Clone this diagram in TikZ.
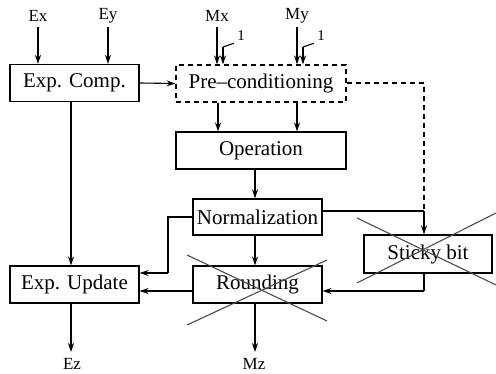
\documentclass[tikz,border=0pt]{standalone}
\usepackage{fontspec}
\setmainfont{Liberation Serif}
\usetikzlibrary{arrows.meta}
\begin{document}
\begin{tikzpicture}[x=1pt,y=-1pt,
  box/.style={draw, line width=1.1pt, inner sep=0pt, font=\fontsize{21}{24}\selectfont},
  dbox/.style={box, dashed, dash pattern=on 5pt off 4pt},
  lbl/.style={inner sep=0pt, font=\fontsize{17}{20}\selectfont},
  one/.style={inner sep=0pt, font=\fontsize{15}{18}\selectfont},
  wire/.style={line width=1.1pt},
  arr/.style={wire, -{Stealth[length=9pt,width=6pt]}},
  cross/.style={line width=1.1pt, draw=black!70}]
\useasboundingbox (0,0) rectangle (496,374);
% boxes
\node[box, minimum width=129pt, minimum height=37pt] (ec) at (74.5,83) {Exp. Comp.};
\node[dbox, minimum width=170pt, minimum height=37pt] (pc) at (261,83.5) {Pre--conditioning};
\node[box, minimum width=170pt, minimum height=37pt] (op) at (261,150.5) {Operation};
\node[box, minimum width=129pt, minimum height=36pt] (no) at (257.5,217) {Normalization};
\node[box, minimum width=129pt, minimum height=37pt] (ro) at (257.5,284.5) {Rounding};
\node[box, minimum width=128pt, minimum height=38pt] (sb) at (428,254) {Sticky bit};
\node[box, minimum width=129pt, minimum height=37pt] (eu) at (74.5,284.5) {Exp. Update};
% labels
\node[lbl] (ex) at (38,16) {Ex};
\node[lbl] (ey) at (108,16) {Ey};
\node[lbl] (mx) at (217,16) {Mx};
\node[lbl] (my) at (297,16) {My};
\node[lbl] (ez) at (72,364) {Ez};
\node[lbl] (mz) at (254,364) {Mz};
\node[one] (o1) at (241,36) {1};
\node[one] (o2) at (321,36) {1};
\coordinate (ezt) at (71,352);
\coordinate (mzt) at (255,352);
\coordinate (k1) at (223,47);
\coordinate (k2) at (303,47);
\coordinate (dc) at (424,83);
\coordinate (nc) at (424,211);
\coordinate (sc) at (424,291);
\coordinate (lc) at (168,273);
% inputs
\draw[arr] (ex.south |- 0,27) -- (ex.south |- ec.north);
\draw[arr] (ey.south |- 0,27) -- (ey.south |- ec.north);
\draw[arr] (mx.south |- 0,27) -- (mx.south |- pc.north);
\draw[arr] (my.south |- 0,27) -- (my.south |- pc.north);
\draw[wire] (o1.south west) ++(-3,2) -- (k1);
\draw[arr] (k1) -- (k1 |- pc.north);
\draw[wire] (o2.south west) ++(-3,2) -- (k2);
\draw[arr] (k2) -- (k2 |- pc.north);
% main flow
\draw[arr] (ec.east) -- (pc.west);
\draw[arr] (pc.south -| 218,0) -- (op.north -| 218,0);
\draw[arr] (pc.south -| 297,0) -- (op.north -| 297,0);
\draw[arr] (op.south -| 255,0) -- (no.north -| 255,0);
\draw[arr] (no.south -| 255,0) -- (ro.north -| 255,0);
\draw[arr] (ro.south -| 255,0) -- (mzt);
\draw[arr] (ec.south -| 71,0) -- (eu.north -| 71,0);
\draw[arr] (eu.south -| 71,0) -- (ezt);
% dashed sticky path
\draw[wire, dashed, dash pattern=on 5pt off 4pt] (pc.east |- dc) -- (dc) -- (nc);
\draw[wire] (no.east |- nc) -- (nc);
\draw[arr] (nc) -- (sb.north -| nc);
\draw[wire] (sb.south -| sc) -- (sc);
\draw[arr] (sc) -- (ro.east |- sc);
% exponent update inputs
\draw[arr] (ro.west |- 0,291) -- (eu.east |- 0,291);
\draw[wire] (no.west) -- (no.west -| lc) -- (lc);
\draw[arr] (lc) -- (eu.east |- lc);
% crosses
\draw[cross] (187,255) -- (327,321);
\draw[cross] (187,325) -- (327,260);
\draw[cross] (357,218) -- (496,285);
\draw[cross] (357,283) -- (496,213);
\end{tikzpicture}
\end{document}
